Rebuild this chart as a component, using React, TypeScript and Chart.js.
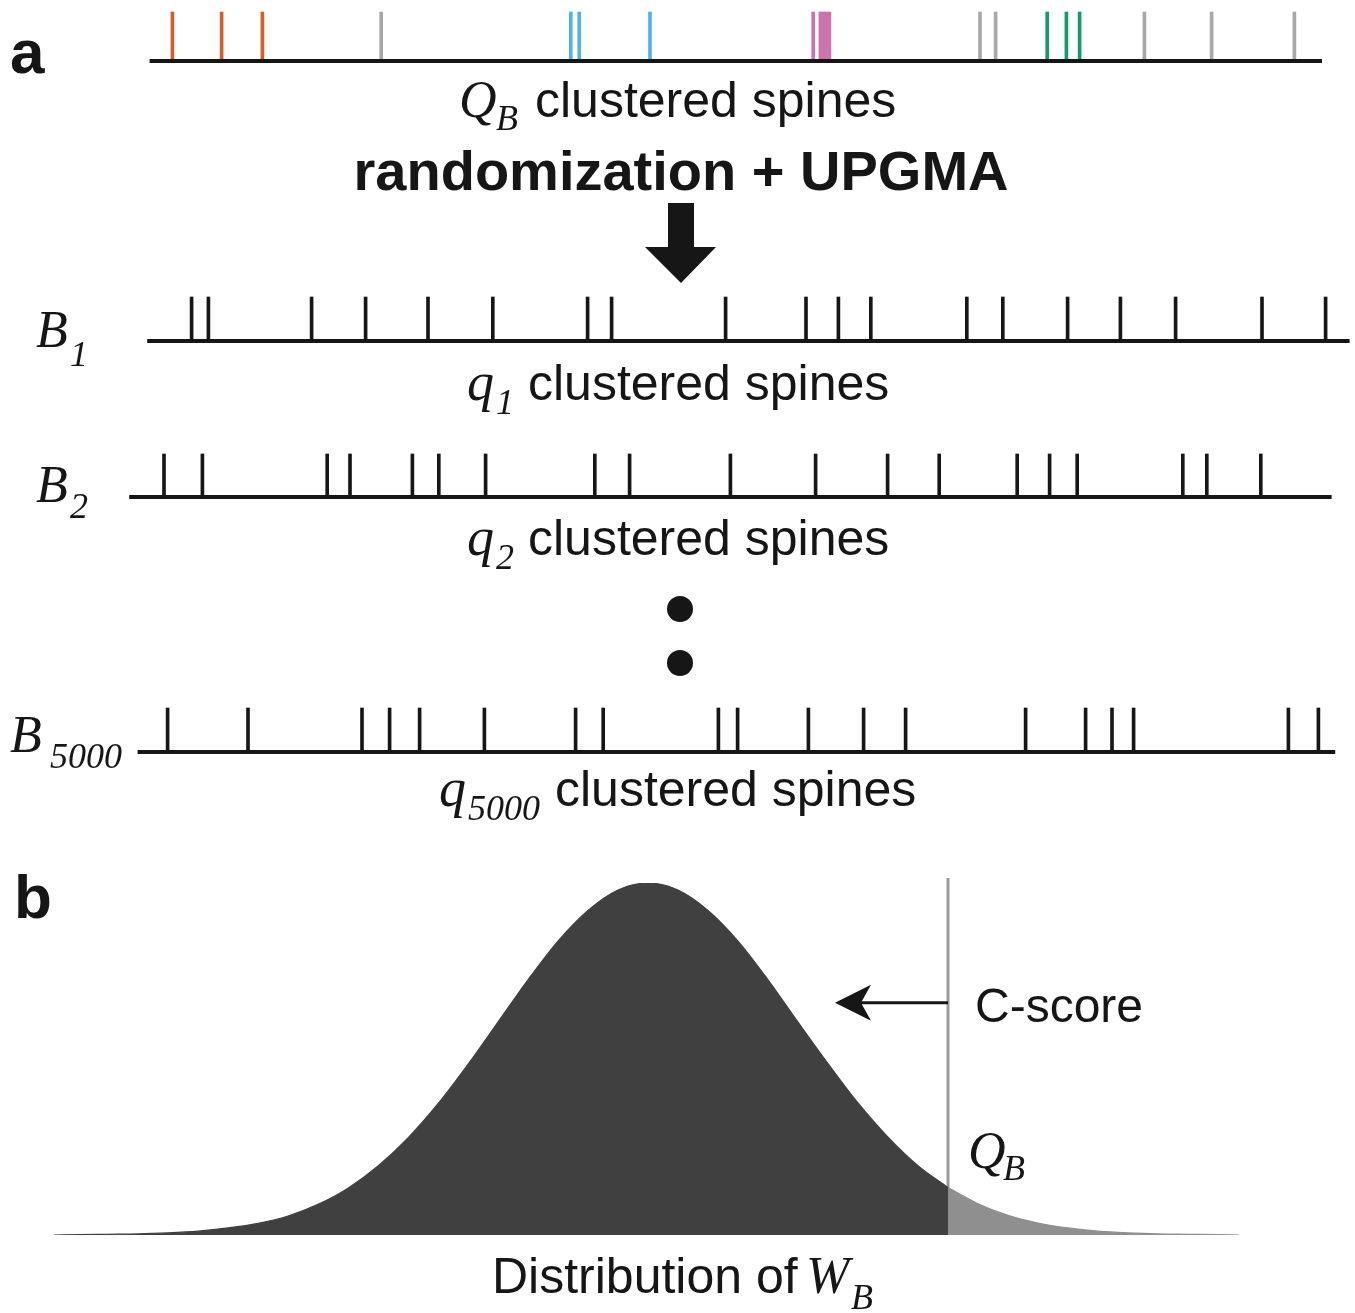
import React, { useEffect, useRef } from "react";
import { Chart, registerables } from "chart.js";
Chart.register(...registerables);

const PAGE_W = 1355;
const PAGE_H = 1313;
const INK = "#161616";

// ---------- Panel a data: spine positions along the dendrite (µm) ----------
const QB_SPINES = [2.7, 6.8, 10.2, 20.1, 35.9, 36.6, 42.5, 56.1, 56.7, 56.95, 57.2, 57.45, 70.0, 71.3, 75.6, 77.2, 78.3, 83.7, 89.3, 96.2];
const QB_CLUSTER = ["c1", "c1", "c1", "none", "c2", "c2", "c2", "c3", "c3", "c3", "c3", "c3", "none", "none", "c4", "c4", "c4", "none", "none", "none"];
const B1_SPINES = [4.3, 5.7, 14.3, 18.8, 24.0, 29.4, 37.3, 39.3, 48.8, 55.5, 58.2, 60.9, 68.9, 71.9, 77.3, 81.7, 86.3, 93.5, 98.8];
const B2_SPINES = [2.0, 5.2, 15.6, 17.5, 22.7, 24.9, 28.8, 37.9, 40.8, 49.2, 56.3, 62.3, 66.6, 73.1, 75.8, 78.1, 86.9, 88.9, 93.4];
const B5000_SPINES = [2.3, 9.0, 18.5, 20.8, 23.3, 28.7, 36.3, 38.6, 48.2, 49.8, 55.7, 60.3, 63.8, 73.8, 78.8, 81.0, 82.8, 95.7, 98.2];
// dendrite extent (start, end) in µm
const QB_EXTENT = [0.8, 98.5];
const B1_EXTENT = [0.6, 100.8];
const B2_EXTENT = [-0.9, 99.3];
const B5000_EXTENT = [-0.2, 99.6];
const CLUSTER_COLORS: Record<string, string> = {
  c1: "#d55f2b",
  c2: "#53b1e6",
  c3: "#cc72ad",
  c4: "#159a6c",
  none: "#a8a8a8",
};

// ---------- Panel b data: distribution of W_B ----------
const W_VALUES = [0.2, 1, 2, 3, 4, 5, 6, 7, 8, 9, 10, 11, 12, 13, 14, 15, 16, 17, 18, 19, 20, 21, 22, 23, 24, 25, 26, 27, 28, 29, 30, 31, 32, 33, 34, 35, 36, 37, 38, 39, 39.7];
const DENSITY = [0.0, 0.001, 0.002, 0.003, 0.006, 0.011, 0.02, 0.033, 0.054, 0.087, 0.133, 0.196, 0.276, 0.373, 0.485, 0.605, 0.725, 0.835, 0.922, 0.98, 1.0, 0.98, 0.922, 0.835, 0.725, 0.605, 0.487, 0.375, 0.278, 0.197, 0.135, 0.089, 0.056, 0.034, 0.02, 0.011, 0.006, 0.003, 0.002, 0.001, 0.0];
const QB_VALUE = 30;
const QB_LINE_TOP = 1.014;

// ---------- scale ranges (layout) ----------
const UM_MIN = -140 / 12;
const UM_MAX = (PAGE_W - 140) / 12;
const W_MIN = -1.6;
const W_MAX = (PAGE_W - 48) / 30;

const SANS = (s: number, w = "normal") => `${w} ${s}px "Liberation Sans", Arial, Helvetica, sans-serif`;
const SERIF_I = (s: number) => `italic ${s}px "Liberation Serif", "Times New Roman", serif`;

type Part = [string, string, number, number]; // text, font, x, baseline y
function drawParts(ctx: CanvasRenderingContext2D, parts: Part[], color = INK) {
  ctx.save();
  ctx.fillStyle = color;
  ctx.textAlign = "left";
  ctx.textBaseline = "alphabetic";
  for (const [t, f, x, y] of parts) {
    ctx.font = f;
    ctx.fillText(t, x, y);
  }
  ctx.restore();
}

function drawCentered(ctx: CanvasRenderingContext2D, t: string, font: string, cx: number, y: number) {
  ctx.save();
  ctx.fillStyle = INK;
  ctx.font = font;
  ctx.textAlign = "center";
  ctx.textBaseline = "alphabetic";
  ctx.fillText(t, cx, y);
  ctx.restore();
}

const baseOptions = (padding: any, scales: any) => ({
  animation: false as const,
  responsive: false,
  events: [] as any[],
  layout: { padding },
  scales,
  plugins: { legend: { display: false }, tooltip: { enabled: false } },
});

function SpineRow(props: {
  spines: number[];
  colors: string[] | string;
  extent: number[];
  tickTop: number;
  base: number;
  decor: (ctx: CanvasRenderingContext2D) => void;
}) {
  const ref = useRef<HTMLCanvasElement>(null);
  useEffect(() => {
    const { spines, colors, extent, tickTop, base, decor } = props;
    const chart = new Chart(ref.current as HTMLCanvasElement, {
      type: "bar",
      data: {
        datasets: [
          {
            type: "bar",
            data: spines.map((s) => ({ x: s, y: 1 })),
            backgroundColor: colors,
            barThickness: 3,
            borderWidth: 0,
            clip: false,
            order: 2,
          } as any,
          {
            type: "line",
            data: [
              { x: extent[0], y: 0 },
              { x: extent[1], y: 0 },
            ],
            borderColor: INK,
            borderWidth: 4,
            pointRadius: 0,
            clip: false,
            order: 1,
          } as any,
        ],
      },
      options: baseOptions(
        { left: 0, right: 0, top: tickTop, bottom: PAGE_H - base },
        {
          x: { type: "linear", min: UM_MIN, max: UM_MAX, display: false, offset: false, grid: { display: false } },
          y: { type: "linear", min: 0, max: 1, display: false },
        }
      ) as any,
      plugins: [{ id: "decor", afterDraw: (c: any) => decor(c.ctx) }],
    });
    return () => chart.destroy();
  }, []);
  return <canvas ref={ref} width={PAGE_W} height={PAGE_H} style={{ position: "absolute", left: 0, top: 0 }} />;
}

function Distribution() {
  const ref = useRef<HTMLCanvasElement>(null);
  useEffect(() => {
    const pts = W_VALUES.map((w, i) => ({ x: w, y: DENSITY[i] }));
    const body = pts.filter((p) => p.x <= QB_VALUE);
    const tail = pts.filter((p) => p.x >= QB_VALUE);
    const chart = new Chart(ref.current as HTMLCanvasElement, {
      type: "line",
      data: {
        datasets: [
          {
            data: body,
            borderColor: "#404040",
            backgroundColor: "#404040",
            borderWidth: 1.2,
            pointRadius: 0,
            fill: "origin",
            cubicInterpolationMode: "monotone",
          },
          {
            data: tail,
            borderColor: "#8f8f8f",
            backgroundColor: "#8f8f8f",
            borderWidth: 1.2,
            pointRadius: 0,
            fill: "origin",
            cubicInterpolationMode: "monotone",
          },
          {
            data: [
              { x: QB_VALUE, y: 0 },
              { x: QB_VALUE, y: QB_LINE_TOP },
            ],
            borderColor: "#9c9c9c",
            borderWidth: 3,
            pointRadius: 0,
            fill: false,
            clip: false,
          } as any,
        ],
      },
      options: baseOptions(
        { left: 0, right: 0, top: 883, bottom: PAGE_H - 1235 },
        {
          x: { type: "linear", min: W_MIN, max: W_MAX, display: false },
          y: { type: "linear", min: 0, max: 1, display: false },
        }
      ) as any,
      plugins: [
        {
          id: "decorB",
          afterDraw: (c: any) => {
            const ctx: CanvasRenderingContext2D = c.ctx;
            const xs = c.scales.x;
            const ys = c.scales.y;
            const qx = xs.getPixelForValue(QB_VALUE);
            const ay = ys.getPixelForValue(0.66);
            // panel label
            drawParts(ctx, [["b", SANS(62, "bold"), 14, 918]]);
            // C-score arrow
            ctx.save();
            ctx.strokeStyle = INK;
            ctx.fillStyle = INK;
            ctx.lineWidth = 3;
            ctx.beginPath();
            ctx.moveTo(qx, ay);
            ctx.lineTo(qx - 95, ay);
            ctx.stroke();
            const tip = qx - 113;
            ctx.beginPath();
            ctx.moveTo(tip, ay);
            ctx.lineTo(tip + 36, ay - 18);
            ctx.lineTo(tip + 26, ay);
            ctx.lineTo(tip + 36, ay + 18);
            ctx.closePath();
            ctx.fill();
            ctx.restore();
            drawParts(ctx, [["C-score", SANS(48), 975, 1022]]);
            drawParts(ctx, [
              ["Q", SERIF_I(52), 968, 1168],
              ["B", SERIF_I(36), 1003, 1180],
            ]);
            drawParts(ctx, [
              ["Distribution of", SANS(50), 492, 1293],
              ["W", SERIF_I(52), 806, 1293],
              ["B", SERIF_I(36), 851, 1309],
            ]);
          },
        },
      ],
    });
    return () => chart.destroy();
  }, []);
  return <canvas ref={ref} width={PAGE_W} height={PAGE_H} style={{ position: "absolute", left: 0, top: 0 }} />;
}

const decorTop = (ctx: CanvasRenderingContext2D) => {
  drawParts(ctx, [["a", SANS(62, "bold"), 10, 73]]);
  drawParts(ctx, [
    ["Q", SERIF_I(52), 459, 117],
    ["B", SERIF_I(36), 496, 130],
    ["clustered spines", SANS(50), 535, 117],
  ]);
  drawCentered(ctx, "randomization + UPGMA", SANS(56, "bold"), 681, 190);
  // thick down arrow
  ctx.save();
  ctx.fillStyle = INK;
  ctx.beginPath();
  ctx.moveTo(668, 203);
  ctx.lineTo(694, 203);
  ctx.lineTo(694, 247);
  ctx.lineTo(716, 247);
  ctx.lineTo(681, 283);
  ctx.lineTo(645, 247);
  ctx.lineTo(668, 247);
  ctx.closePath();
  ctx.fill();
  ctx.restore();
};

const decorB1 = (ctx: CanvasRenderingContext2D) => {
  drawParts(ctx, [
    ["B", SERIF_I(52), 36, 347],
    ["1", SERIF_I(36), 70, 366],
  ]);
  drawParts(ctx, [
    ["q", SERIF_I(54), 467, 400],
    ["1", SERIF_I(36), 496, 414],
    ["clustered spines", SANS(50), 528, 400],
  ]);
};

const decorB2 = (ctx: CanvasRenderingContext2D) => {
  drawParts(ctx, [
    ["B", SERIF_I(52), 36, 502],
    ["2", SERIF_I(36), 70, 518],
  ]);
  drawParts(ctx, [
    ["q", SERIF_I(54), 467, 555],
    ["2", SERIF_I(36), 496, 569],
    ["clustered spines", SANS(50), 528, 555],
  ]);
  ctx.save();
  ctx.fillStyle = INK;
  for (const y of [609, 663]) {
    ctx.beginPath();
    ctx.arc(680, y, 13, 0, Math.PI * 2);
    ctx.fill();
  }
  ctx.restore();
};

const decorB5000 = (ctx: CanvasRenderingContext2D) => {
  drawParts(ctx, [
    ["B", SERIF_I(52), 10, 752],
    ["5000", SERIF_I(36), 50, 768],
  ]);
  drawParts(ctx, [
    ["q", SERIF_I(54), 439, 806],
    ["5000", SERIF_I(36), 468, 820],
    ["clustered spines", SANS(50), 555, 806],
  ]);
};

export default function App() {
  const qbColors = QB_CLUSTER.map((c) => CLUSTER_COLORS[c]);
  return (
    <div style={{ position: "absolute", left: 0, top: 0, width: PAGE_W, height: PAGE_H, background: "#fff", overflow: "hidden" }}>
      <SpineRow spines={QB_SPINES} colors={qbColors} extent={QB_EXTENT} tickTop={12} base={61} decor={decorTop} />
      <SpineRow spines={B1_SPINES} colors={INK} extent={B1_EXTENT} tickTop={297} base={341} decor={decorB1} />
      <SpineRow spines={B2_SPINES} colors={INK} extent={B2_EXTENT} tickTop={454} base={497} decor={decorB2} />
      <SpineRow spines={B5000_SPINES} colors={INK} extent={B5000_EXTENT} tickTop={708} base={752} decor={decorB5000} />
      <Distribution />
    </div>
  );
}
